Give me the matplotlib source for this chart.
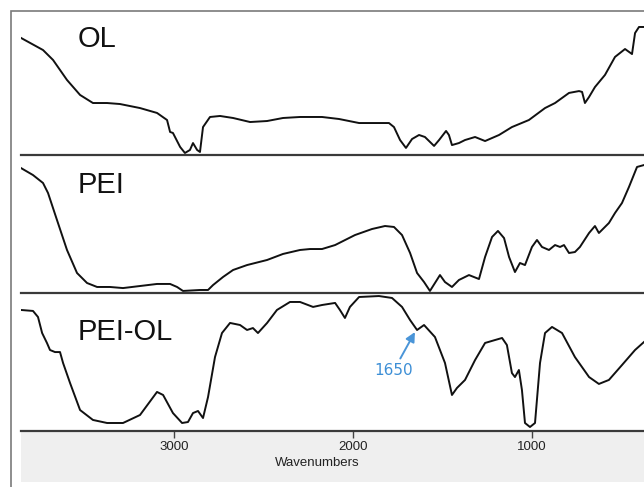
import matplotlib
matplotlib.use("Agg")
import matplotlib.pyplot as plt
from matplotlib.patches import Rectangle

# ---- data (wavenumber cm-1, relative transmittance %) ----
ol_wn = [3855, 3732, 3676, 3598, 3525, 3453, 3374, 3302, 3190, 3095, 3039, 3022, 3006, 2966,
         2939, 2911, 2894, 2871, 2855, 2838, 2799, 2743, 2670, 2575, 2480, 2391, 2296, 2223,
         2173, 2078, 1966, 1877, 1799, 1771, 1737, 1704, 1670, 1631, 1598, 1547, 1519, 1480,
         1464, 1447, 1408, 1374, 1318, 1262, 1184, 1112, 1017, 927, 871, 793, 737, 720, 704,
         681, 648, 592, 536, 480, 441, 424, 402, 374]
ol_t = [81.3, 72.9, 66.0, 52.1, 41.7, 36.1, 36.1, 35.4, 32.6, 29.2, 24.3, 16.0, 15.3, 5.6,
        1.4, 3.5, 8.3, 3.5, 2.1, 19.4, 26.4, 27.1, 25.7, 22.9, 23.6, 25.7, 26.4, 26.4,
        26.4, 25.0, 22.2, 22.2, 22.2, 19.4, 10.4, 4.9, 11.1, 13.9, 12.5, 6.3, 10.4, 16.7,
        13.9, 6.9, 8.3, 10.4, 12.5, 9.7, 13.9, 19.4, 24.3, 32.6, 36.1, 43.1, 44.4, 43.8, 36.1,
        40.3, 47.2, 55.6, 68.1, 73.6, 70.1, 84.7, 88.9, 88.9]

pei_wn = [3855, 3788, 3732, 3704, 3654, 3598, 3542, 3486, 3430, 3358, 3285, 3190, 3095, 3022,
          2983, 2950, 2855, 2810, 2782, 2726, 2670, 2592, 2480, 2391, 2296, 2240, 2173, 2100,
          1989, 1894, 1821, 1771, 1726, 1681, 1642, 1603, 1570, 1542, 1514, 1486, 1447, 1408,
          1352, 1296, 1262, 1223, 1190, 1156, 1128, 1095, 1067, 1039, 1000, 972, 944, 905, 871,
          843, 821, 793, 760, 732, 681, 648, 626, 570, 536, 497, 458, 413, 374]
pei_t = [91.2, 86.1, 80.3, 73.0, 53.3, 31.4, 14.6, 7.3, 4.4, 4.4, 3.6, 5.1, 6.6, 6.6,
         4.4, 1.5, 2.2, 2.2, 5.8, 11.7, 16.8, 20.4, 24.1, 28.5, 31.4, 32.1, 32.1, 35.0,
         42.3, 46.7, 48.9, 48.2, 42.3, 29.2, 14.6, 8.0, 1.5, 7.3, 13.1, 8.0, 4.4, 9.5,
         13.1, 10.2, 26.3, 40.9, 45.3, 40.1, 26.3, 15.3, 21.9, 20.4, 33.6, 38.7, 33.6, 31.4, 35.0,
         33.6, 35.0, 29.2, 29.9, 33.6, 43.8, 48.9, 43.8, 51.1, 58.4, 65.7, 77.4, 92.0, 93.4]

peiol_wn = [3855, 3788, 3760, 3737, 3710, 3693, 3665, 3637, 3620, 3581, 3525, 3453, 3374, 3285,
            3190, 3095, 3061, 3006, 2955, 2922, 2894, 2866, 2838, 2810, 2771, 2732, 2687, 2631,
            2592, 2559, 2531, 2480, 2425, 2352, 2296, 2223, 2173, 2100, 2073, 2045, 2017, 1966,
            1855, 1782, 1726, 1681, 1642, 1603, 1542, 1486, 1447, 1419, 1374, 1318, 1262, 1207,
            1167, 1140, 1112, 1095, 1073, 1056, 1039, 1011, 983, 955, 927, 888, 832, 760, 681,
            626, 570, 497, 424, 374]
peiol_t = [87.7, 87.0, 82.6, 71.0, 63.8, 58.7, 57.2, 57.2, 49.3, 34.8, 15.2, 8.0, 5.8, 5.8,
           11.6, 28.3, 26.1, 13.0, 5.8, 6.5, 13.0, 14.5, 9.4, 24.6, 53.6, 71.0, 78.3, 76.8,
           73.2, 74.6, 71.0, 78.3, 87.7, 93.5, 93.5, 89.9, 91.3, 92.8, 87.7, 81.9, 89.9, 97.1,
           97.8, 96.4, 89.9, 80.4, 73.2, 76.8, 68.1, 49.3, 26.1, 31.2, 37.0, 51.4, 63.8, 65.9,
           67.4, 62.3, 42.0, 39.1, 44.2, 29.7, 5.8, 2.9, 5.8, 49.3, 71.0, 75.4, 71.0, 53.6, 39.1,
           34.1, 37.0, 47.8, 58.7, 64.5]

labels = ["OL", "PEI", "PEI-OL"]
xticks = [3000, 2000, 1000]
xlabel = "Wavenumbers"
ann_text = "1650"
ann_xy = (1654, 71.7)
ann_text_xy = (1771, 44.2)

# ---- figure ----
W, H = 644, 487
fig = plt.figure(figsize=(W / 100, H / 100), dpi=100)
fig.patch.set_facecolor("white")

def fx(px):
    return px / W

def fy(py):
    return 1 - py / H

# gray axis strip (behind everything)
fig.patches.append(Rectangle((fx(21), fy(482)), fx(644) - fx(21), fy(432) - fy(482),
                             transform=fig.transFigure, facecolor="#efefef",
                             edgecolor="none", zorder=-10))
# outer frame
fig.patches.append(Rectangle((fx(11), fy(500)), fx(700) - fx(11), fy(11) - fy(500),
                             transform=fig.transFigure, facecolor="none",
                             edgecolor="#7a7a7a", lw=1.2, zorder=5))

panels = [(11, 155), (156, 293), (293, 431)]
series = [(ol_wn, ol_t), (pei_wn, pei_t), (peiol_wn, peiol_t)]
label_base = [47, 193, 340]
axes = []
for i, ((top, bot), (wn, tt)) in enumerate(zip(panels, series)):
    ax = fig.add_axes([fx(21), fy(bot), fx(644) - fx(21), fy(top) - fy(bot)])
    ax.plot(wn, tt, color="#111111", lw=1.4, solid_joinstyle="round")
    ax.set_xlim(3855, 374)
    ax.set_ylim(0, 100)
    for s in ["top", "left", "right"]:
        ax.spines[s].set_visible(False)
    ax.spines["bottom"].set_color("#3a3a3a")
    ax.spines["bottom"].set_linewidth(1.6)
    ax.set_yticks([])
    ax.patch.set_alpha(0)
    fig.text(fx(78), fy(label_base[i]), labels[i], fontsize=21, family="Liberation Sans",
             va="baseline", ha="left", color="#111111")
    axes.append(ax)

for ax in axes[:2]:
    ax.set_xticks([])

ax3 = axes[2]
ax3.set_xticks(xticks)
ax3.set_xticklabels([str(t) for t in xticks], fontsize=9.5, family="Liberation Sans",
                    color="#222222")
ax3.tick_params(axis="x", direction="out", length=5, width=1, color="#444444", pad=2)

fig.text(fx(317), fy(463), xlabel, fontsize=9.5, family="Liberation Sans",
         ha="center", va="center", color="#222222")

ax3.annotate(ann_text, xy=ann_xy, xytext=ann_text_xy, textcoords="data",
             fontsize=11, color="#3d8fd6", ha="center", va="center",
             arrowprops=dict(arrowstyle="-|>", color="#4a95d8", lw=1.4,
                             mutation_scale=14, shrinkA=1, shrinkB=0))

fig.savefig("out.png", dpi=100)
